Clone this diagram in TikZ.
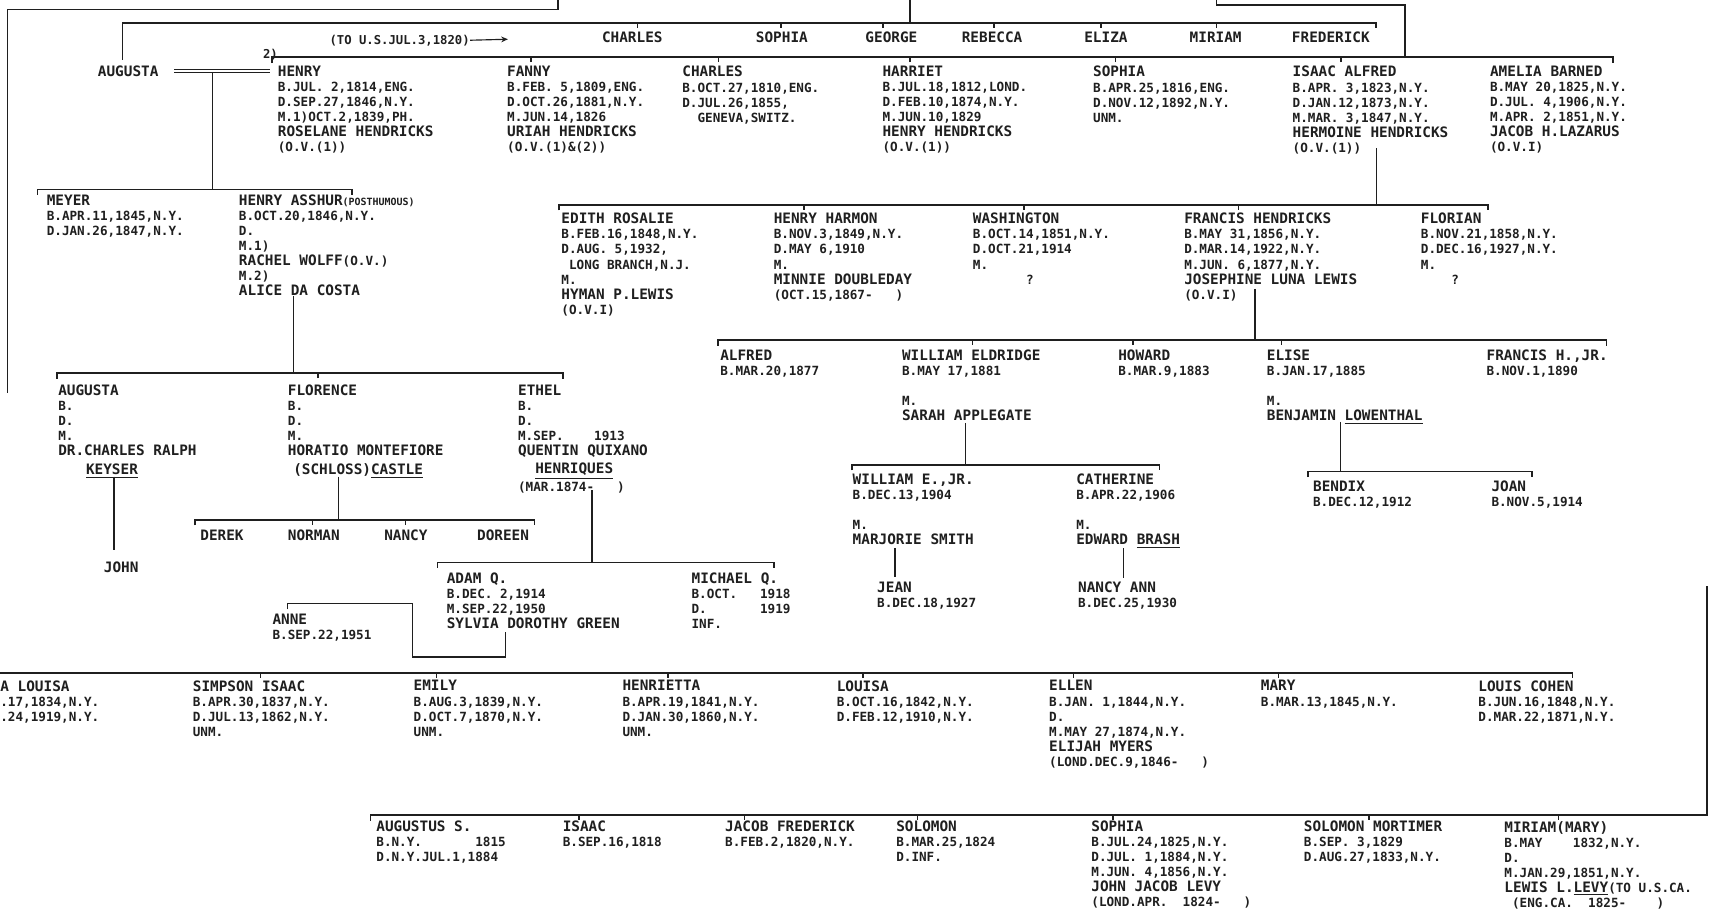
\documentclass[tikz,border=0pt]{standalone}
\usepackage{fontspec}
\setmonofont{DejaVu Sans Mono}
\usepackage{tikz}
\usetikzlibrary{arrows.meta}
\definecolor{ink}{HTML}{1F1F1F}
\newcommand\dfont{\ttfamily\bfseries\fontsize{6.6}{7.85}\selectfont}
\newcommand\nm[1]{{\fontsize{7.5}{7.85}\selectfont #1}}
\newcommand\sm[1]{{\fontsize{5.2}{7.85}\selectfont #1}}
\tikzset{
  person/.style={anchor=north west,inner sep=0pt,align=left,font=\dfont,text=ink},
  note/.style={anchor=north west,inner sep=0pt,font=\ttfamily\bfseries\fontsize{6.4}{7}\selectfont,text=ink},
  bar/.style={draw=ink,line width=0.9pt},
  tick/.style={draw=ink,line width=0.8pt},
  marriage/.style={draw=ink,double=white,double distance=1.3pt,line width=0.6pt}
}

\begin{document}
\begin{tikzpicture}[x=0.02cm,y=-0.02cm]
\fill[white] (0,0) rectangle (1568,840);
\useasboundingbox (0,0) rectangle (1568,840);

% generation of the emigrants
\node[note] (tous) at (302,31.5) {(TO U.S.JUL.3,1820)};
\node[person] (charles1) at (552,29) {\nm{CHARLES}};
\node[person] (sophia1) at (693.2,29) {\nm{SOPHIA}};
\node[person] (george) at (793.7,29) {\nm{GEORGE}};
\node[person] (rebecca) at (882.1,29) {\nm{REBECCA}};
\node[person] (eliza) at (994.5,29) {\nm{ELIZA}};
\node[person] (miriam1) at (1091.2,29) {\nm{MIRIAM}};
\node[person] (frederick) at (1185,29) {\nm{FREDERICK}};

% children of Frederick
\node[person] (augusta1) at (89.5,60.5) {\nm{AUGUSTA}};
\node[note] (two) at (241,45) {2)};
\node[person] (henry1) at (254.6,60.5) {\nm{HENRY}\\B.JUL. 2,1814,ENG.\\D.SEP.27,1846,N.Y.\\M.1)OCT.2,1839,PH.\\\nm{ROSELANE HENDRICKS}\\(O.V.(1))};
\node[person] (fanny) at (465,60.5) {\nm{FANNY}\\B.FEB. 5,1809,ENG.\\D.OCT.26,1881,N.Y.\\M.JUN.14,1826\\\nm{URIAH HENDRICKS}\\(O.V.(1)\&(2))};
\node[person] (charles2) at (625.7,60.5) {\nm{CHARLES}\\B.OCT.27,1810,ENG.\\D.JUL.26,1855,\\\phantom{XX}GENEVA,SWITZ.};
\node[person] (harriet) at (809.4,60.5) {\nm{HARRIET}\\B.JUL.18,1812,LOND.\\D.FEB.10,1874,N.Y.\\M.JUN.10,1829\\\nm{HENRY HENDRICKS}\\(O.V.(1))};
\node[person] (sophia2) at (1002.6,60.5) {\nm{SOPHIA}\\B.APR.25,1816,ENG.\\D.NOV.12,1892,N.Y.\\UNM.};
\node[person] (isaac) at (1185.7,60.5) {\nm{ISAAC ALFRED}\\B.APR. 3,1823,N.Y.\\D.JAN.12,1873,N.Y.\\M.MAR. 3,1847,N.Y.\\\nm{HERMOINE HENDRICKS}\\(O.V.(1))};
\node[person] (amelia) at (1366.7,60.5) {\nm{AMELIA BARNED}\\B.MAY 20,1825,N.Y.\\D.JUL. 4,1906,N.Y.\\M.APR. 2,1851,N.Y.\\\nm{JACOB H.LAZARUS}\\(O.V.I)};

% children of Henry
\node[person] (meyer) at (42.6,178.5) {\nm{MEYER}\\B.APR.11,1845,N.Y.\\D.JAN.26,1847,N.Y.};
\node[person] (asshur) at (218.9,178.5) {\nm{HENRY ASSHUR}\sm{(POSTHUMOUS)}\\B.OCT.20,1846,N.Y.\\D.\\M.1)\\\nm{RACHEL WOLFF}(O.V.)\\M.2)\\\nm{ALICE DA COSTA}};

% children of Isaac Alfred
\node[person] (edith) at (514.8,195.3) {\nm{EDITH ROSALIE}\\B.FEB.16,1848,N.Y.\\D.AUG. 5,1932,\\\phantom{X}LONG BRANCH,N.J.\\M.\\\nm{HYMAN P.LEWIS}\\(O.V.I)};
\node[person] (harmon) at (709.6,195.3) {\nm{HENRY HARMON}\\B.NOV.3,1849,N.Y.\\D.MAY 6,1910\\M.\\\nm{MINNIE DOUBLEDAY}\\(OCT.15,1867-~~~)};
\node[person] (washington) at (892.3,195.3) {\nm{WASHINGTON}\\B.OCT.14,1851,N.Y.\\D.OCT.21,1914\\M.\\\phantom{XXXXXXX}?};
\node[person] (francis) at (1086.2,195.3) {\nm{FRANCIS HENDRICKS}\\B.MAY 31,1856,N.Y.\\D.MAR.14,1922,N.Y.\\M.JUN. 6,1877,N.Y.\\\nm{JOSEPHINE LUNA LEWIS}\\(O.V.I)};
\node[person] (florian) at (1303.3,195.3) {\nm{FLORIAN}\\B.NOV.21,1858,N.Y.\\D.DEC.16,1927,N.Y.\\M.\\\phantom{XXXX}?};

% children of Francis
\node[person] (alfred) at (660.5,320.7) {\nm{ALFRED}\\B.MAR.20,1877};
\node[person] (eldridge) at (827.3,320.7) {\nm{WILLIAM ELDRIDGE}\\B.MAY 17,1881\\\mbox{}\\M.\\\nm{SARAH APPLEGATE}};
\node[person] (howard) at (1025.7,320.7) {\nm{HOWARD}\\B.MAR.9,1883};
\node[person] (elise) at (1162,320.7) {\nm{ELISE}\\B.JAN.17,1885\\\mbox{}\\M.\\\nm{BENJAMIN \underline{LOWENTHAL}}};
\node[person] (francisjr) at (1363.6,320.7) {\nm{FRANCIS H.,JR.}\\B.NOV.1,1890};

% children of Henry Asshur
\node[person] (augusta2) at (53.1,352.5) {\nm{AUGUSTA}\\B.\\D.\\M.\\\nm{DR.CHARLES RALPH}\\[1.9pt]\hspace*{14.5pt}\nm{\underline{KEYSER}}};
\node[person] (florence) at (263.8,352.5) {\nm{FLORENCE}\\B.\\D.\\M.\\\nm{HORATIO MONTEFIORE}\\[1.9pt]\hspace*{2.8pt}\nm{(SCHLOSS)\underline{CASTLE}}};
\node[person] (ethel) at (475,352.5) {\nm{ETHEL}\\B.\\D.\\M.SEP.~~~~1913\\\nm{QUENTIN QUIXANO}\\[1.9pt]\hspace*{9pt}\nm{\underline{HENRIQUES}}\\(MAR.1874-~~~)};

% grandchildren
\node[person] (willjr) at (782,434.5) {\nm{WILLIAM E.,JR.}\\B.DEC.13,1904\\\mbox{}\\M.\\\nm{MARJORIE SMITH}};
\node[person] (catherine) at (987.1,434.5) {\nm{CATHERINE}\\B.APR.22,1906\\\mbox{}\\M.\\\nm{EDWARD \underline{BRASH}}};
\node[person] (bendix) at (1204.4,440.9) {\nm{BENDIX}\\B.DEC.12,1912};
\node[person] (joan) at (1368.1,440.9) {\nm{JOAN}\\B.NOV.5,1914};
\node[person] (derek) at (183.5,485.9) {\nm{DEREK}};
\node[person] (norman) at (263.8,485.9) {\nm{NORMAN}};
\node[person] (nancy) at (352.2,485.9) {\nm{NANCY}};
\node[person] (doreen) at (437.4,485.9) {\nm{DOREEN}};
\node[person] (john) at (95,515) {\nm{JOHN}};
\node[person] (adam) at (409.6,525.5) {\nm{ADAM Q.}\\B.DEC. 2,1914\\M.SEP.22,1950\\\nm{SYLVIA DOROTHY GREEN}};
\node[person] (michael) at (634.2,525.5) {\nm{MICHAEL Q.}\\B.OCT.~~~1918\\D.~~~~~~~1919\\INF.};
\node[person] (jean) at (804.5,533.3) {\nm{JEAN}\\B.DEC.18,1927};
\node[person] (nancyann) at (988.8,533.3) {\nm{NANCY ANN}\\B.DEC.25,1930};
\node[person] (anne) at (249.7,563.3) {\nm{ANNE}\\B.SEP.22,1951};

% long row
\node[person] (louisa1) at (0,624) {\nm{A LOUISA}\\.17,1834,N.Y.\\.24,1919,N.Y.};
\node[person] (simpson) at (176.6,624) {\nm{SIMPSON ISAAC}\\B.APR.30,1837,N.Y.\\D.JUL.13,1862,N.Y.\\UNM.};
\node[person] (emily) at (379.2,624) {\nm{EMILY}\\B.AUG.3,1839,N.Y.\\D.OCT.7,1870,N.Y.\\UNM.};
\node[person] (henrietta) at (570.8,624) {\nm{HENRIETTA}\\B.APR.19,1841,N.Y.\\D.JAN.30,1860,N.Y.\\UNM.};
\node[person] (louisa2) at (767.4,624) {\nm{LOUISA}\\B.OCT.16,1842,N.Y.\\D.FEB.12,1910,N.Y.};
\node[person] (ellen) at (962.3,624) {\nm{ELLEN}\\B.JAN. 1,1844,N.Y.\\D.\\M.MAY 27,1874,N.Y.\\\nm{ELIJAH MYERS}\\(LOND.DEC.9,1846-~~~)};
\node[person] (mary) at (1156.5,624) {\nm{MARY}\\B.MAR.13,1845,N.Y.};
\node[person] (cohen) at (1356.1,624) {\nm{LOUIS COHEN}\\B.JUN.16,1848,N.Y.\\D.MAR.22,1871,N.Y.};

% bottom row
\node[person] (augustus) at (345,753) {\nm{AUGUSTUS S.}\\B.N.Y.~~~~~~~1815\\D.N.Y.JUL.1,1884};
\node[person] (isaac2) at (516,753) {\nm{ISAAC}\\B.SEP.16,1818};
\node[person] (jacob) at (665,753) {\nm{JACOB FREDERICK}\\B.FEB.2,1820,N.Y.};
\node[person] (solomon) at (822,753) {\nm{SOLOMON}\\B.MAR.25,1824\\D.INF.};
\node[person] (sophia3) at (1001,753) {\nm{SOPHIA}\\B.JUL.24,1825,N.Y.\\D.JUL. 1,1884,N.Y.\\M.JUN. 4,1856,N.Y.\\\nm{JOHN JACOB LEVY}\\(LOND.APR.~~1824-~~~)};
\node[person] (mortimer) at (1196,753) {\nm{SOLOMON MORTIMER}\\B.SEP. 3,1829\\D.AUG.27,1833,N.Y.};
\node[person] (miriam2) at (1380,753) {\nm{MIRIAM(MARY)}\\B.MAY~~~~1832,N.Y.\\D.\\M.JAN.29,1851,N.Y.\\\nm{LEWIS L.\underline{LEVY}}(TO U.S.CA.\\\phantom{X}(ENG.CA.~~1825-~~~~)};

% connectors
\coordinate (tousend) at (466,36);
\draw[ink,line width=0.6pt,-{Stealth[length=3.5pt,width=3pt]}] (tous.east) -- (tousend);
\coordinate (topin) at (512,0);
\coordinate (topcorner) at (7,8.6);
\coordinate (leftend) at (7,361);
\draw[bar] (topin) |- (topcorner) -- (leftend);
\coordinate (g2in) at (834.7,0);
\coordinate (g2L) at (112.4,55);
\coordinate (g2R) at (1262.3,20.8);
\draw[bar] (g2L) |- (g2R) -- ++(0,4.7);
\draw[bar] (g2in) -- (g2in |- g2R);
\coordinate (g3in) at (1116.2,0);
\coordinate (g3drop) at (1289,4.6);
\coordinate (g3L) at (249.3,58);
\coordinate (g3R) at (1479.7,52.6);
\draw[bar] (g3in) |- (g3drop) -- (g3drop |- g3R);
\draw[bar] (g3L) |- (g3R) -- ++(0,5.4);
\coordinate (mL) at (159.7,65.2);
\coordinate (mR) at (247.5,65.2);
\draw[marriage] (mL) -- (mR);
\coordinate (augdrop) at (194.9,66.7);
\coordinate (meyL) at (34.4,178.5);
\coordinate (meyR) at (322.8,173.8);
\draw[bar] (augdrop) -- (augdrop |- meyR);
\draw[bar] (meyL) |- (meyR) -- ++(0,5);
\coordinate (isaacdrop) at (1263,136);
\coordinate (g4L) at (513,193);
\coordinate (g4R) at (1365.4,188.1);
\draw[bar] (isaacdrop) -- (isaacdrop |- g4R);
\draw[bar] (g4L) |- (g4R) -- ++(0,5);
\coordinate (francisdrop) at (1151.7,265);
\coordinate (g5L) at (658.8,317);
\coordinate (g5R) at (1473.9,312);
\draw[bar] (francisdrop) -- (francisdrop |- g5R);
\draw[bar] (g5L) |- (g5R) -- ++(0,5);
\coordinate (alicedrop) at (269.3,272);
\coordinate (a2L) at (52.4,347.5);
\coordinate (a2R) at (516.6,342.5);
\draw[bar] (alicedrop) -- (alicedrop |- a2R);
\draw[bar] (a2L) |- (a2R) -- ++(0,5);
\coordinate (sarahdrop) at (885.9,388);
\coordinate (wjL) at (781.6,431.5);
\coordinate (wjR) at (1063.8,426.5);
\draw[bar] (sarahdrop) -- (sarahdrop |- wjR);
\draw[bar] (wjL) |- (wjR) -- ++(0,5);
\coordinate (lowdrop) at (1229.9,387);
\coordinate (bdL) at (1199.9,437.7);
\coordinate (bdR) at (1405.6,432.7);
\draw[bar] (lowdrop) -- (lowdrop |- bdR);
\draw[bar] (bdL) |- (bdR) -- ++(0,5);
\coordinate (keyserdrop) at (104.9,437.4);
\coordinate (johntop) at (104.9,504.6);
\draw[bar] (keyserdrop) -- (johntop);
\coordinate (castledrop) at (310.6,437.4);
\coordinate (drL) at (178.6,482);
\coordinate (drR) at (490.5,477.1);
\draw[bar] (castledrop) -- (castledrop |- drR);
\draw[bar] (drL) |- (drR) -- ++(0,5);
\coordinate (ethdrop) at (542.9,449.6);
\coordinate (adL) at (401.4,521);
\coordinate (adR) at (710.3,516);
\draw[bar] (ethdrop) -- (ethdrop |- adR);
\draw[bar] (adL) |- (adR) -- ++(0,5);
\coordinate (marjdrop) at (821.3,503);
\draw[bar] (marjdrop) -- ++(0,26);
\coordinate (brashdrop) at (1030.9,503);
\draw[bar] (brashdrop) -- ++(0,27.6);
\coordinate (anL) at (263.8,559);
\coordinate (anR) at (378.5,553.6);
\coordinate (boxR) at (463.7,602.5);
\coordinate (sylviadrop) at (463.7,580);
\draw[bar] (anL) |- (anR) |- (boxR) -- (sylviadrop);
\coordinate (lgL) at (0,617.2);
\coordinate (lgR) at (1442.8,617.2);
\draw[bar] (lgL) -- (lgR) -- ++(0,5);
\coordinate (btL) at (340,753);
\coordinate (btR) at (1566,748);
\coordinate (btin) at (1566,538);
\draw[bar] (btL) |- (btR) -- (btin);

% ticks from the bars
\foreach \n/\d in {charles1/32.8,sophia1/23.2,george/16.5,rebecca/29.9,eliza/15.7,miriam1/25}
  \draw[tick] (\n.north west) ++(\d,-3.7) -- ++(0,-4.5);
\foreach \n/\d in {fanny/22,charles2/33.4,harriet/25.3,sophia2/21,isaac/44.5}
  \draw[tick] (\n.north west) ++(\d,-3.4) -- ++(0,-4.5);
\foreach \n/\d in {harmon/28.1,washington/47.4,francis/50}
  \draw[tick] (\n.north west) ++(\d,-2.7) -- ++(0,-4.5);
\foreach \n/\d in {eldridge/65,howard/13.9,elise/13.8}
  \draw[tick] (\n.north west) ++(\d,-4.2) -- ++(0,-4.5);
\draw[tick] (florence.north west) ++(27.8,-5.5) -- ++(0,-4.5);
\foreach \n/\d in {norman/22.9,nancy/19.7}
  \draw[tick] (\n.north west) ++(\d,-4.3) -- ++(0,-4.5);
\foreach \n/\d in {simpson/62.2,emily/21.1,henrietta/42.1,louisa2/24.6,ellen/22.8,mary/16.4}
  \draw[tick] (\n.north west) ++(\d,-2.3) -- ++(0,-4.5);
\foreach \n/\d in {isaac2/15,jacob/18,solomon/20,sophia3/20,mortimer/60,miriam2/50}
  \draw[tick] (\n.north west) ++(\d,-1) -- ++(0,-4);
\end{tikzpicture}
\end{document}
